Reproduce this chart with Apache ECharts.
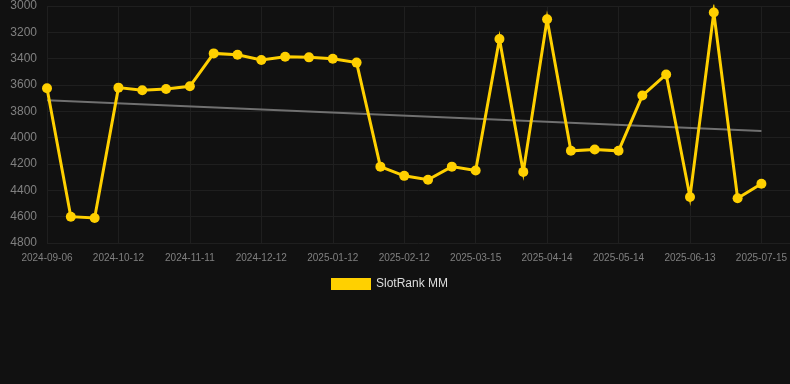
<!DOCTYPE html>
<html>
<head>
<meta charset="utf-8">
<script src="https://cdn.jsdelivr.net/npm/echarts@6/dist/echarts.min.js"></script>
<style>
  html, body { margin: 0; padding: 0; background: #111111; }
  #chart { width: 790px; height: 384px; }
</style>
</head>
<body>
<div id="chart"></div>
<script>
// dates (one every ~10 days), label shown on every 3rd
const dates = [
  '2024-09-06', '2024-09-18', '2024-09-30', '2024-10-12', '2024-10-22', '2024-11-01',
  '2024-11-11', '2024-11-21', '2024-12-02', '2024-12-12', '2024-12-22', '2025-01-02',
  '2025-01-12', '2025-01-22', '2025-02-02', '2025-02-12', '2025-02-22', '2025-03-05',
  '2025-03-15', '2025-03-25', '2025-04-04', '2025-04-14', '2025-04-24', '2025-05-04',
  '2025-05-14', '2025-05-24', '2025-06-03', '2025-06-13', '2025-06-23', '2025-07-04',
  '2025-07-15'
];
const rankValues = [
  3625, 4600, 4610, 3620, 3640, 3630, 3610, 3360, 3370, 3410, 3385, 3390,
  3400, 3430, 4220, 4290, 4320, 4220, 4250, 3250, 4260, 3100, 4100, 4090,
  4100, 3680, 3520, 4450, 3050, 4460, 4350
];
// trend line end points (first and last date)
const trendValues = [3715, 3950];
const yTicks = { min: 3000, max: 4800, step: 200 };

const chart = echarts.init(document.getElementById('chart'), null, { renderer: 'canvas' });

const rankData = dates.map((d, i) => [i, rankValues[i]]);
const trendData = [[0, trendValues[0]], [dates.length - 1, trendValues[1]]];

chart.setOption({
  backgroundColor: '#111111',
  animation: false,
  grid: { left: 47, right: 0, top: 6, bottom: 141 },
  legend: {
    data: ['SlotRank MM'],
    left: 326,
    top: 273,
    itemWidth: 40,
    itemHeight: 12,
    itemGap: 10,
    icon: 'rect',
    textStyle: { color: '#dddddd', fontSize: 12, fontFamily: 'Arial, Liberation Sans' }
  },
  xAxis: {
    type: 'value',
    min: 0,
    max: 31.2,
    interval: 3,
    axisLine: { show: false },
    axisTick: { show: false },
    splitLine: { show: true, lineStyle: { color: '#1f1f1f', width: 1 } },
    axisLabel: {
      color: '#808080',
      fontSize: 10,
      margin: 10,
      fontFamily: 'Arial, Liberation Sans',
      showMaxLabel: false,
      formatter: v => dates[v] || ''
    }
  },
  yAxis: {
    type: 'value',
    inverse: true,
    min: yTicks.min,
    max: yTicks.max,
    interval: yTicks.step,
    axisLine: { show: false },
    axisTick: { show: false },
    splitLine: { show: true, lineStyle: { color: '#1f1f1f', width: 1 } },
    axisLabel: {
      color: '#808080',
      fontSize: 12,
      margin: 10,
      fontFamily: 'Arial, Liberation Sans',
      formatter: v => String(v)
    }
  },
  series: [
    {
      name: 'Trend',
      type: 'line',
      data: trendData,
      symbol: 'none',
      silent: true,
      lineStyle: { color: '#707070', width: 2 },
      z: 1
    },
    {
      name: 'SlotRank MM',
      type: 'line',
      data: rankData,
      symbol: 'circle',
      symbolSize: 10,
      itemStyle: { color: '#ffd000' },
      lineStyle: { color: '#ffd000', width: 3, join: 'miter' },
      z: 2
    }
  ]
});
</script>
</body>
</html>
